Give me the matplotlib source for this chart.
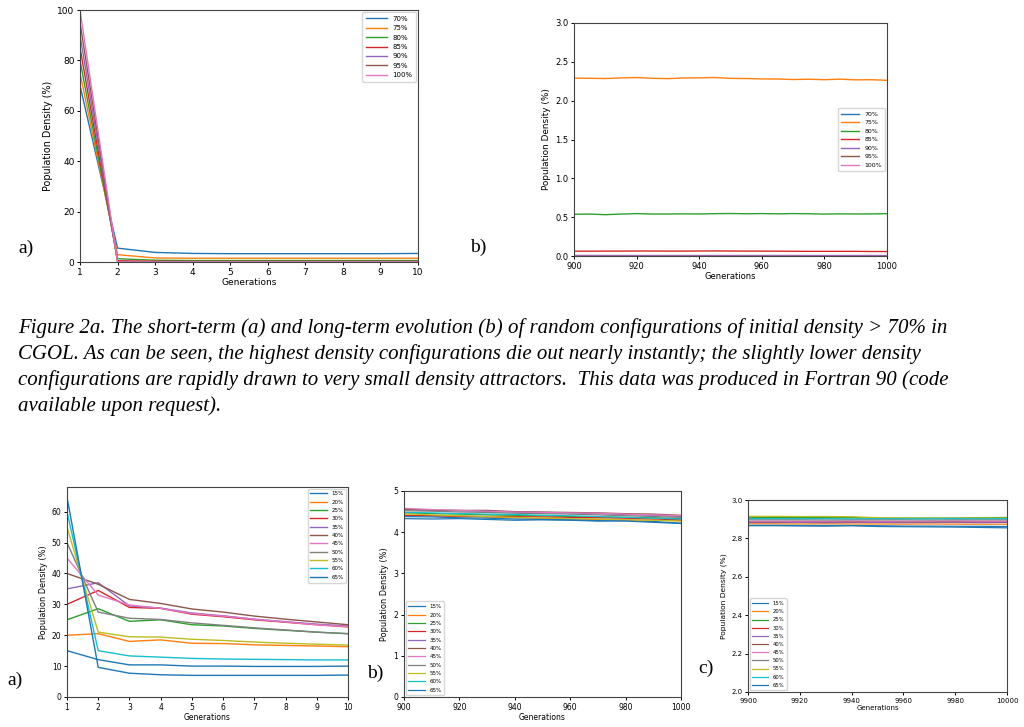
import numpy as np
import matplotlib
matplotlib.use('Agg')
import matplotlib.pyplot as plt

# ---- data: short-term, high density (top a) ----
gens = [1, 2, 3, 4, 5, 6, 7, 8, 9, 10]
hi_labels = ['70%', '75%', '80%', '85%', '90%', '95%', '100%']
hi_short = {
    '70%':  [70, 5.5, 3.8, 3.4, 3.3, 3.3, 3.3, 3.3, 3.3, 3.4],
    '75%':  [75, 2.9, 1.6, 1.5, 1.5, 1.5, 1.5, 1.5, 1.5, 1.5],
    '80%':  [80, 1.3, 0.7, 0.6, 0.6, 0.6, 0.6, 0.6, 0.6, 0.6],
    '85%':  [85, 0.5, 0.3, 0.2, 0.2, 0.2, 0.2, 0.2, 0.2, 0.2],
    '90%':  [90, 0.1, 0.05, 0.03, 0.02, 0.02, 0.02, 0.02, 0.02, 0.02],
    '95%':  [95, 0.0, 0.0, 0.0, 0.0, 0.0, 0.0, 0.0, 0.0, 0.0],
    '100%': [100, 0.0, 0.0, 0.0, 0.0, 0.0, 0.0, 0.0, 0.0, 0.0],
}

# ---- data: long-term, high density (top b), every 5 generations ----
gens_long = [900, 905, 910, 915, 920, 925, 930, 935, 940, 945, 950,
             955, 960, 965, 970, 975, 980, 985, 990, 995, 1000]
hi_long = {
    '70%':  [0.0] * 21,
    '75%':  [2.290, 2.288, 2.285, 2.293, 2.298, 2.288, 2.284, 2.292, 2.294, 2.298, 2.287,
             2.285, 2.280, 2.279, 2.272, 2.276, 2.270, 2.277, 2.268, 2.270, 2.262],
    '80%':  [0.537, 0.540, 0.532, 0.540, 0.546, 0.540, 0.541, 0.543, 0.541, 0.545, 0.547,
             0.544, 0.546, 0.543, 0.546, 0.544, 0.540, 0.543, 0.541, 0.542, 0.545],
    '85%':  [0.062, 0.062, 0.063, 0.063, 0.064, 0.064, 0.063, 0.063, 0.064, 0.065, 0.064,
             0.063, 0.063, 0.062, 0.061, 0.060, 0.060, 0.060, 0.060, 0.058, 0.057],
    '90%':  [0.012] * 21,
    '95%':  [0.0] * 21,
    '100%': [0.0] * 21,
}

# ---- data: short-term, lower density (bottom a) ----
lo_labels = ['15%', '20%', '25%', '30%', '35%', '40%', '45%', '50%', '55%', '60%', '65%']
lo_short = {
    '15%': [15.0, 12.1, 10.4, 10.4, 10.0, 10.0, 9.9, 9.9, 9.9, 10.0],
    '20%': [20.0, 20.5, 18.0, 18.5, 17.4, 17.3, 16.9, 16.7, 16.5, 16.3],
    '25%': [25.0, 28.6, 24.5, 25.0, 23.4, 23.0, 22.2, 21.6, 21.0, 20.5],
    '30%': [30.0, 34.5, 29.0, 28.7, 26.8, 26.0, 25.0, 24.2, 23.4, 22.7],
    '35%': [35.0, 37.0, 29.5, 28.8, 27.2, 26.3, 25.2, 24.4, 23.6, 23.0],
    '40%': [40.0, 36.5, 31.6, 30.3, 28.5, 27.5, 26.2, 25.2, 24.3, 23.4],
    '45%': [45.0, 33.0, 29.8, 28.7, 27.0, 26.2, 25.2, 24.3, 23.4, 22.8],
    '50%': [50.0, 27.5, 25.5, 25.1, 24.0, 23.2, 22.4, 21.7, 21.0, 20.5],
    '55%': [55.0, 21.0, 19.5, 19.4, 18.7, 18.3, 17.8, 17.4, 17.1, 16.8],
    '60%': [60.0, 15.0, 13.3, 12.9, 12.5, 12.3, 12.2, 12.1, 12.0, 12.0],
    '65%': [64.7, 9.6, 7.7, 7.2, 7.0, 7.0, 7.0, 7.0, 7.0, 7.1],
}

# ---- data: long-term, lower density (bottom b), every 10 generations ----
gens_b = [900, 910, 920, 930, 940, 950, 960, 970, 980, 990, 1000]
lo_long = {
    '15%': [4.33, 4.32, 4.33, 4.31, 4.29, 4.30, 4.29, 4.27, 4.28, 4.26, 4.22],
    '20%': [4.42, 4.40, 4.38, 4.37, 4.35, 4.34, 4.33, 4.31, 4.30, 4.29, 4.28],
    '25%': [4.47, 4.45, 4.44, 4.42, 4.41, 4.40, 4.38, 4.37, 4.36, 4.35, 4.33],
    '30%': [4.40, 4.40, 4.39, 4.38, 4.38, 4.37, 4.36, 4.35, 4.34, 4.32, 4.30],
    '35%': [4.55, 4.53, 4.52, 4.51, 4.49, 4.48, 4.47, 4.45, 4.43, 4.41, 4.38],
    '40%': [4.55, 4.54, 4.53, 4.53, 4.50, 4.49, 4.48, 4.47, 4.45, 4.44, 4.41],
    '45%': [4.58, 4.55, 4.53, 4.51, 4.49, 4.48, 4.47, 4.46, 4.44, 4.42, 4.40],
    '50%': [4.52, 4.51, 4.49, 4.48, 4.46, 4.45, 4.44, 4.42, 4.40, 4.38, 4.36],
    '55%': [4.45, 4.42, 4.40, 4.38, 4.36, 4.35, 4.33, 4.32, 4.30, 4.29, 4.27],
    '60%': [4.48, 4.47, 4.45, 4.44, 4.43, 4.41, 4.40, 4.38, 4.36, 4.34, 4.32],
    '65%': [4.38, 4.37, 4.35, 4.34, 4.32, 4.31, 4.30, 4.28, 4.27, 4.24, 4.21],
}

# ---- data: very long-term, lower density (bottom c), every 10 generations ----
gens_c = [9900, 9910, 9920, 9930, 9940, 9950, 9960, 9970, 9980, 9990, 10000]
lo_vlong = {
    '15%': [2.866, 2.866, 2.865, 2.864, 2.866, 2.862, 2.861, 2.860, 2.859, 2.857, 2.855],
    '20%': [2.876, 2.876, 2.875, 2.876, 2.875, 2.875, 2.874, 2.875, 2.874, 2.874, 2.874],
    '25%': [2.910, 2.909, 2.909, 2.908, 2.908, 2.906, 2.906, 2.906, 2.906, 2.908, 2.909],
    '30%': [2.885, 2.885, 2.884, 2.885, 2.885, 2.884, 2.884, 2.884, 2.885, 2.885, 2.884],
    '35%': [2.883, 2.883, 2.883, 2.882, 2.883, 2.883, 2.882, 2.883, 2.883, 2.882, 2.883],
    '40%': [2.887, 2.887, 2.888, 2.887, 2.887, 2.888, 2.887, 2.887, 2.888, 2.888, 2.888],
    '45%': [2.890, 2.890, 2.890, 2.890, 2.891, 2.890, 2.890, 2.890, 2.891, 2.890, 2.890],
    '50%': [2.897, 2.897, 2.897, 2.896, 2.897, 2.897, 2.897, 2.896, 2.897, 2.897, 2.897],
    '55%': [2.915, 2.915, 2.914, 2.914, 2.913, 2.908, 2.906, 2.905, 2.905, 2.906, 2.906],
    '60%': [2.903, 2.903, 2.903, 2.903, 2.902, 2.903, 2.902, 2.902, 2.903, 2.902, 2.903],
    '65%': [2.868, 2.868, 2.867, 2.867, 2.867, 2.866, 2.864, 2.864, 2.863, 2.863, 2.862],
}

caption = [
    'Figure 2a. The short-term (a) and long-term evolution (b) of random configurations of initial density > 70% in',
    'CGOL. As can be seen, the highest density configurations die out nearly instantly; the slightly lower density',
    'configurations are rapidly drawn to very small density attractors.  This data was produced in Fortran 90 (code',
    'available upon request).',
]

W, H = 1024, 727
fig = plt.figure(figsize=(W / 100, H / 100), dpi=100)


def px_axes(left, top, right, bottom):
    return fig.add_axes([left / W, 1 - bottom / H, (right - left) / W, (bottom - top) / H])


def style(ax, fs=6.5):
    ax.tick_params(labelsize=fs, length=2.5, width=0.7, pad=1.5)
    ax.set_xlabel('Generations', fontsize=fs, labelpad=1)
    ax.set_ylabel('Population Density (%)', fontsize=fs + 0.4, labelpad=3)
    for s in ax.spines.values():
        s.set_linewidth(0.8)
        s.set_color('#444444')


# top a)
ax1 = px_axes(80, 10, 418, 262)
for k in hi_labels:
    ax1.plot(gens, hi_short[k], lw=1.0, label=k)
ax1.set_xlim(1, 10)
ax1.set_ylim(0, 100)
ax1.set_xticks(gens)
style(ax1)
ax1.legend(loc='upper right', fontsize=5, handlelength=3, labelspacing=0.5, borderpad=0.5,
           borderaxespad=0.3)

# top b)
ax2 = px_axes(574, 23, 887, 256)
for k in hi_labels:
    ax2.plot(gens_long, hi_long[k], lw=1.0, label=k)
ax2.set_xlim(900, 1000)
ax2.set_ylim(0, 3.0)
ax2.set_yticks(np.arange(0, 3.01, 0.5))
style(ax2, 6)
ax2.legend(loc='center right', fontsize=4.5, handlelength=3, labelspacing=0.5, borderpad=0.5,
           borderaxespad=0.3)

# bottom a)
ax3 = px_axes(67, 487, 348, 697)
for k in lo_labels:
    ax3.plot(gens, lo_short[k], lw=1.0, label=k)
ax3.set_xlim(1, 10)
ax3.set_ylim(0, 68)
ax3.set_xticks(gens)
ax3.set_yticks(range(0, 61, 10))
style(ax3, 5.5)
ax3.legend(loc='upper right', fontsize=4, handlelength=3, labelspacing=0.6, borderpad=0.5,
           borderaxespad=0.3)

# bottom b)
ax4 = px_axes(404, 491, 681, 697)
for k in lo_labels:
    ax4.plot(gens_b, lo_long[k], lw=0.9, label=k)
ax4.set_xlim(900, 1000)
ax4.set_ylim(0, 5)
style(ax4, 5.5)
ax4.legend(loc='lower left', fontsize=4, handlelength=3, labelspacing=0.6, borderpad=0.5,
           borderaxespad=0.3)

# bottom c)
ax5 = px_axes(748, 500, 1007, 692)
for k in lo_labels:
    ax5.plot(gens_c, lo_vlong[k], lw=0.9, label=k)
ax5.set_xlim(9900, 10000)
ax5.set_ylim(2.0, 3.0)
ax5.set_yticks(np.arange(2.0, 3.01, 0.2))
style(ax5, 5)
ax5.legend(loc='lower left', fontsize=3.8, handlelength=3, labelspacing=0.6, borderpad=0.5,
           borderaxespad=0.3)

# panel letters
for x, y, s in [(18, 248, 'a)'), (470, 247, 'b)'), (7, 680, 'a)'), (367, 673, 'b)'), (698, 668, 'c)')]:
    fig.text(x / W, 1 - y / H, s, fontsize=14, family='Liberation Serif', va='center', ha='left')

# caption
for i, line in enumerate(caption):
    fig.text(18 / W, 1 - (328 + 26 * i) / H, line, fontsize=15, family='Liberation Serif',
             style='italic', va='center', ha='left')

fig.savefig('out.png', dpi=100)
